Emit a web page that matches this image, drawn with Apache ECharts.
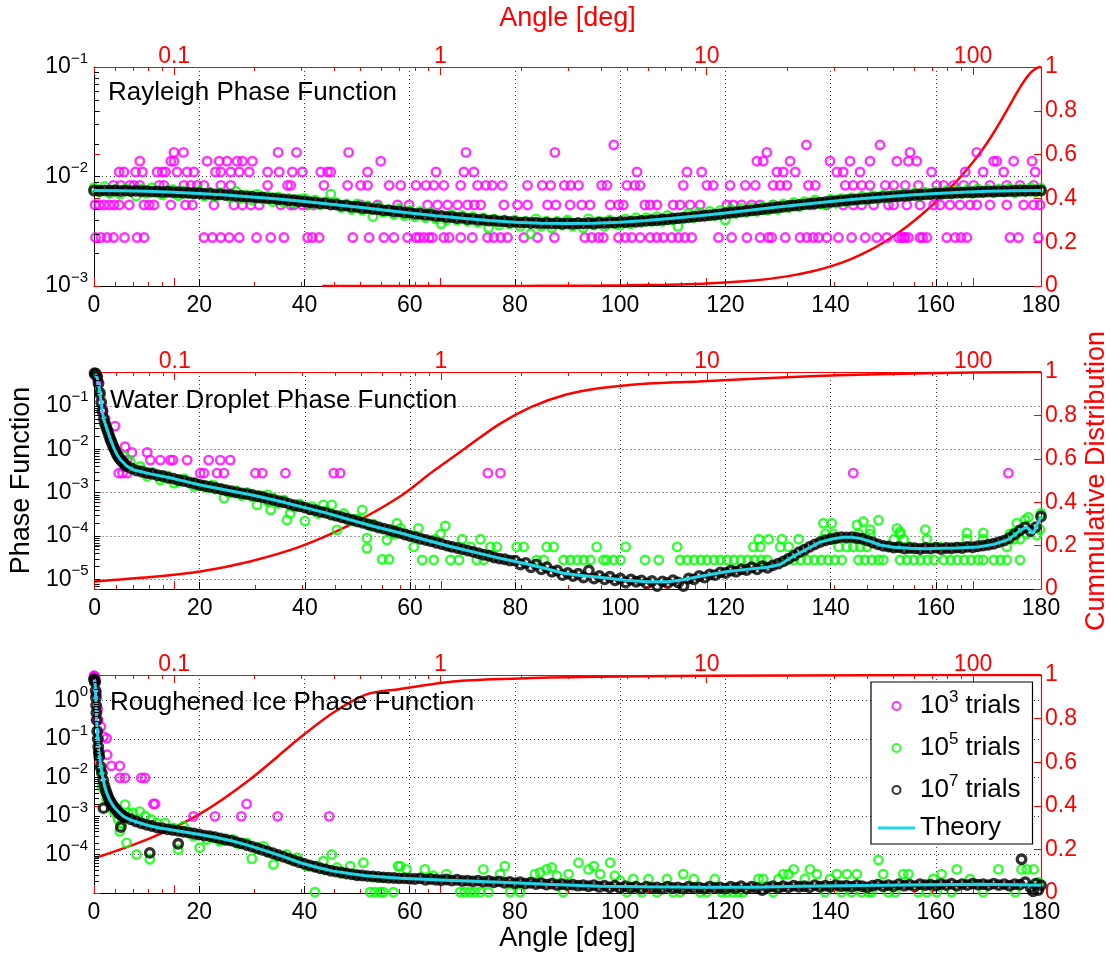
<!DOCTYPE html>
<html><head><meta charset="utf-8">
<script src="https://cdn.jsdelivr.net/npm/echarts@6/dist/echarts.min.js"></script>
<style>html,body{margin:0;padding:0;background:#fff}#c{width:1111px;height:954px}</style>
</head><body><div id="c"></div>
<script>
// ================= DATA =================
// ---- Panel 1: Rayleigh ----
const rayTheoryAngles = [0,5,10,15,20,25,30,35,40,45,50,55,60,65,70,75,80,85,90,95,100,105,110,115,120,125,130,135,140,145,150,155,160,165,170,175,180];
const rayTheory = [7.44e-3,7.41e-3,7.33e-3,7.19e-3,7.00e-3,6.77e-3,6.51e-3,6.22e-3,5.90e-3,5.58e-3,5.26e-3,4.94e-3,4.65e-3,4.38e-3,4.16e-3,3.97e-3,3.83e-3,3.75e-3,3.72e-3,3.75e-3,3.83e-3,3.97e-3,4.16e-3,4.38e-3,4.65e-3,4.94e-3,5.26e-3,5.58e-3,5.90e-3,6.22e-3,6.51e-3,6.77e-3,7.00e-3,7.19e-3,7.33e-3,7.41e-3,7.44e-3];
const RAY_UNIT = 1e-3; // per-degree arrays below are in units of 1e-3, index = angle in degrees
const rayBlackPerDeg = [
7.46,7.42,7.47,7.40,7.44,7.38,7.43,7.36,7.39,7.33,
7.35,7.27,7.31,7.22,7.25,7.17,7.19,7.10,7.11,7.03,
7.04,6.94,6.95,6.85,6.86,6.76,6.76,6.65,6.64,6.55,
6.54,6.42,6.43,6.31,6.31,6.19,6.18,6.06,6.06,5.94,
5.93,5.81,5.80,5.68,5.68,5.55,5.55,5.42,5.42,5.29,
5.29,5.16,5.16,5.04,5.03,4.91,4.91,4.79,4.80,4.68,
4.68,4.56,4.57,4.46,4.47,4.36,4.37,4.27,4.27,4.18,
4.19,4.09,4.10,4.02,4.03,3.95,3.96,3.89,3.90,3.84,
3.85,3.79,3.81,3.76,3.78,3.73,3.76,3.71,3.74,3.70,
3.74,3.70,3.74,3.71,3.76,3.72,3.78,3.75,3.80,3.79,
3.85,3.82,3.87,3.86,3.92,3.93,3.98,3.99,4.05,4.06,
4.13,4.16,4.21,4.23,4.30,4.33,4.39,4.43,4.49,4.53,
4.62,4.66,4.73,4.78,4.85,4.90,4.97,5.03,5.10,5.16,
5.24,5.30,5.37,5.43,5.50,5.56,5.63,5.69,5.76,5.82,
5.88,5.94,6.01,6.06,6.13,6.18,6.25,6.30,6.37,6.41,
6.48,6.52,6.59,6.63,6.68,6.73,6.78,6.82,6.87,6.91,
6.95,6.98,7.03,7.06,7.09,7.13,7.16,7.19,7.22,7.25,
7.27,7.30,7.32,7.34,7.36,7.38,7.40,7.42,7.43,7.45,7.44];
const rayGreenPerDeg = [
7.9,7.2,8.1,7.0,7.6,6.9,7.8,7.3,6.6,7.7,
7.0,7.9,7.1,6.8,7.5,7.6,6.7,7.4,7.0,6.9,
7.4,6.6,7.2,6.5,7.1,6.9,6.4,7.3,6.3,6.8,
6.1,6.9,6.2,6.6,5.9,6.5,5.8,6.3,5.7,6.2,
6.3,5.6,6.1,5.5,5.9,6.9,5.8,5.2,5.6,5.0,
5.6,4.9,5.4,4.3,5.3,4.7,5.0,4.5,5.1,4.4,
4.9,4.3,4.8,4.2,4.7,4.1,3.7,4.0,4.5,4.0,
4.4,3.9,4.3,3.8,4.2,3.4,4.1,3.6,4.0,3.7,
4.0,3.5,3.9,3.0,4.1,3.5,3.9,3.4,3.9,3.6,
4.0,3.5,3.8,3.4,4.1,3.6,3.9,3.5,4.0,3.7,
3.6,4.1,3.7,4.2,3.8,4.2,3.9,4.3,3.9,4.4,
4.0,3.5,4.1,4.6,4.2,4.7,4.3,4.8,4.4,4.9,
4.0,5.0,4.6,5.1,4.7,5.2,4.8,5.3,4.9,5.5,
5.0,5.6,5.2,5.8,5.3,5.9,5.5,6.1,5.6,5.5,
6.2,5.7,6.3,5.9,6.4,6.0,6.6,6.1,6.7,6.2,
6.8,6.3,6.9,6.5,7.0,6.6,7.1,6.7,7.2,6.8,
7.3,6.8,7.4,6.9,7.5,7.0,7.6,7.0,7.7,7.1,
7.6,7.1,7.7,7.2,7.8,7.1,7.7,7.3,7.9,7.2,7.8];
// 10^3 trials: quantized levels -> angles where a circle sits at that level
const rayMagentaLevels = [
 [2.77e-3,[0.3,1.3,2.5,3.7,5.8,8.2,9.5,20.9,22.5,24.1,25.7,27.6,30.9,33.6,36.1,40.6,41.5,42.8,49.2,52.3,55.1,57,59.6,61.2,61.8,62.7,63.7,64.3,66.5,67.5,69.7,71.9,74.8,76,77.3,78.6,81.7,84.3,87.5,93.3,94.6,95.9,96.8,99.7,101,102.2,103.8,105.7,107,108.2,109.8,111.1,112.3,113.6,118.7,121.2,124.1,126.6,128.2,128.8,131.4,134.2,135.5,136.7,137.7,139.3,141.5,144,146.6,148.8,150.7,152.9,153.5,153.9,154.2,154.8,157,157.5,158.3,162.1,163.7,164.8,165.9,174.1,175.7,179.5]],
 [5.5e-3,[0.2,1,1.9,2.9,3.8,4.8,6.7,9.5,10.5,11.4,14.6,17.4,18.7,22.8,26.6,28.2,29.8,31.4,35.5,37.4,38,39.6,40.6,41.8,50.7,53.9,57.7,59.9,63.4,65.3,67.2,69.1,71,72.3,73.5,77.9,80.5,82.4,86.2,87.8,90.5,92.7,94.3,98.1,99.7,100.6,104.7,105.7,107,110.1,111.4,113.3,115.2,120.3,121.5,123.1,125,126.6,129.1,132.9,136.7,139.3,142.4,144.3,145.9,148.2,151,152,154.5,157,159.6,160.8,162.7,164.6,166.5,167.8,170.3,173.5,176.7,178.6,179.8]],
 [8.3e-3,[3.7,5.1,6.8,7.6,8.7,12.4,13.3,17.1,18.4,19.6,20.9,24.1,26,33,36.8,37.4,43.7,48.2,50.7,52,56.1,58.3,61.2,63.1,64.6,66.5,69.7,72.9,74.5,75.7,77.6,82.4,85.2,86.8,89.4,90.6,92.1,96.5,97.5,101.3,102.8,103.8,112,116.5,117.7,120.9,123.8,125.7,129.1,130.4,131.7,135.8,137.1,142.8,144.3,145.9,147.5,150.4,152,154.2,156.7,160.2,161.5,163.4,165.3,167.2,170.3,173.5,176,178.6]],
 [1.1e-2,[4.8,5.7,7.9,9.2,12,13,13.6,15.8,17.7,19,23.1,24.1,26,27.6,29.5,33,35.2,37.7,39.6,43.1,44.4,45,52,65,70.3,72.2,103.2,112.7,115.5,129.8,131,133.3,141.2,142.4,145.6,159.2,165.6,169,172.9,178.9]],
 [1.38e-2,[8.7,14.6,15.2,21.5,23.8,25.3,27.2,28.2,30.1,54.5,126,127.2,132.3,139.9,143.7,147.5,152.6,154.8,156.4,171,171.6,174.8,178.3]],
 [1.66e-2,[15.2,17,35,38.5,48.4,70.7,87.6,127.9,155.1,167.8]],
 [1.94e-2,[98.8,135.4,149.4]]
];
const rayCdfAngles = [0.36,0.5,0.7,1,1.5,2,3,4,5,7,10,15,20,25,30,35,40,45,50,55,60,65,70,75,80,85,90,95,100,105,110,115,120,125,130,135,140,145,150,155,160,165,170,175,180];
const rayCdf = [0.00002,0.00003,0.00006,0.00011,0.00026,0.00046,0.00103,0.00183,0.00286,0.0056,0.0113,0.0251,0.0439,0.0671,0.0941,0.1241,0.1566,0.1906,0.2257,0.2613,0.2969,0.3321,0.3668,0.4008,0.4342,0.4672,0.5,0.5328,0.5658,0.5992,0.6332,0.6679,0.7031,0.7387,0.7743,0.8094,0.8434,0.8759,0.9059,0.9329,0.9561,0.9749,0.9887,0.9971,1];

// ---- Panel 2: Water droplet ----
const wdTheory = [[0,0.53],[0.5,0.44],[0.82,0.28],[1.14,0.15],[1.46,0.074],[1.77,0.048],[2.4,0.028],[3.04,0.0166],[3.67,0.0106],[4.3,0.0074],[4.94,0.0057],[6.2,0.004],[7.5,0.0033],[10.6,0.0027],[15,0.0021],[20.1,0.0015],[25,0.00115],[29.7,0.00089],[35,0.00064],[39.2,0.000475],[44,0.00034],[48.7,0.000234],[53,0.000168],[58.2,0.000117],[63,8.1e-5],[67.7,5.7e-5],[72,4.3e-5],[77.2,3.05e-5],[82,2.3e-5],[86,1.75e-5],[89,1.4e-5],[92,1.25e-5],[96,1.12e-5],[101,9.6e-6],[105,8.8e-6],[109,8.8e-6],[112,9.8e-6],[114,1.1e-5],[117,1.3e-5],[120,1.5e-5],[124,1.7e-5],[128,1.9e-5],[130.4,2.2e-5],[132.9,3.4e-5],[135.5,5e-5],[138,7.2e-5],[140.5,8.6e-5],[142.4,9.3e-5],[144,9.3e-5],[145.6,8.8e-5],[147.5,7.5e-5],[149.4,6.2e-5],[152,5.5e-5],[155,5.2e-5],[158,5.1e-5],[161,5.2e-5],[164,5.3e-5],[168,5.6e-5],[171,6.4e-5],[173.5,8e-5],[175,1.05e-4],[176,1.35e-4],[177.3,1.6e-4],[178.5,1.15e-4],[180,2.8e-4]];
const wdBlackFine = [[0,0.56],[0.25,0.55],[0.5,0.47],[0.75,0.33],[1.0,0.2],[1.25,0.12],[1.5,0.075],[1.75,0.05],[2.0,0.038],[2.25,0.031],[2.5,0.026],[2.75,0.021],[3.0,0.017],[3.25,0.0145],[3.5,0.0118],[3.75,0.0102],[4.0,0.0088],[4.25,0.0076],[4.5,0.0068],[4.75,0.0061],[5.0,0.0056],[5.25,0.0052],[5.5,0.0048],[5.75,0.0045]];
const wdBlackStart = 6; // per-degree values from 6 to 180 deg
const wdBlackPerDeg = [
4.1e-3,3.6e-3,3.2e-3,3.0e-3,2.8e-3,2.7e-3,2.5e-3,2.4e-3,2.2e-3,2.1e-3,1.95e-3,1.85e-3,1.72e-3,1.62e-3,1.5e-3,
1.42e-3,1.35e-3,1.28e-3,1.2e-3,1.13e-3,1.07e-3,1.01e-3,9.6e-4,9.2e-4,8.8e-4,
8.2e-4,7.8e-4,7.2e-4,6.8e-4,6.3e-4,6.0e-4,5.5e-4,5.1e-4,4.8e-4,4.5e-4,
4.1e-4,3.9e-4,3.6e-4,3.4e-4,3.1e-4,2.9e-4,2.7e-4,2.5e-4,2.35e-4,2.15e-4,
2.0e-4,1.85e-4,1.72e-4,1.6e-4,1.48e-4,1.38e-4,1.27e-4,1.18e-4,1.08e-4,1.0e-4,
9.4e-5,8.6e-5,8.1e-5,7.5e-5,7.0e-5,6.5e-5,6.0e-5,5.6e-5,5.3e-5,4.9e-5,
4.6e-5,4.3e-5,4.0e-5,3.7e-5,3.5e-5,3.2e-5,3.0e-5,2.9e-5,2.7e-5,2.7e-5,
2.2e-5,2.4e-5,1.9e-5,2.2e-5,1.7e-5,1.9e-5,1.5e-5,1.6e-5,1.25e-5,1.4e-5,
1.2e-5,1.35e-5,1.1e-5,1.6e-5,1.05e-5,1.2e-5,1.0e-5,1.15e-5,9.5e-6,1.05e-5,
8.5e-6,1.0e-5,8.8e-6,9.5e-6,8.0e-6,9.2e-6,7.0e-6,9.0e-6,8.2e-6,9.6e-6,
8.5e-6,7.0e-6,1.05e-5,1.0e-5,1.2e-5,1.1e-5,1.3e-5,1.25e-5,1.45e-5,1.4e-5,
1.6e-5,1.5e-5,1.7e-5,1.65e-5,1.9e-5,1.7e-5,2.0e-5,1.85e-5,2.1e-5,2.3e-5,
2.6e-5,3.0e-5,3.5e-5,4.2e-5,4.8e-5,5.6e-5,6.4e-5,7.2e-5,7.9e-5,8.5e-5,
9.0e-5,9.4e-5,9.3e-5,9.4e-5,9.0e-5,8.6e-5,7.8e-5,7.1e-5,6.4e-5,5.9e-5,
5.7e-5,5.4e-5,5.5e-5,5.1e-5,5.3e-5,5.2e-5,5.0e-5,5.3e-5,5.1e-5,5.4e-5,
5.0e-5,5.3e-5,5.2e-5,5.4e-5,5.3e-5,5.6e-5,5.5e-5,5.8e-5,6.0e-5,6.3e-5,
6.6e-5,7.2e-5,7.8e-5,9.0e-5,1.1e-4,1.35e-4,1.6e-4,1.3e-4,1.6e-4,2.8e-4];
const wdGreenPts = [[0.3,0.5],[1,0.19],[2,0.04],[3,0.018],[4,0.009],
[5.6,6.8e-3],[6.8,5.2e-3],[8.7,4e-3],[10,2.35e-3],[12.5,1.95e-3],[15.1,1.65e-3],[18.9,1.38e-3],[24,1.26e-3],[24.6,7.4e-4],[26.5,9.7e-4],[30.9,5.2e-4],[32.9,8.9e-4],[33.5,4e-4],[36.6,2.34e-4],[37.2,3.3e-4],[40,2.2e-4],[41.3,4.75e-4],[43.5,5.2e-4],[45.1,5.2e-4],[46.1,1.38e-4],[47.4,3.3e-4],[50.9,4e-4],[51.2,2.1e-4],[51.8,8.9e-5],[51.8,5.2e-5],[54.7,2.9e-5],[56,2.9e-5],[55.6,8.1e-5],[57.5,1.96e-4],
[7.5,3.6e-3],[9,3.3e-3],[11,2.9e-3],[13,2.2e-3],[14,2.4e-3],[16,1.8e-3],[17,2.1e-3],[19,1.7e-3],[20.5,1.45e-3],[21.5,1.3e-3],[22.5,1.5e-3],[23,1.2e-3],[25.5,1.0e-3],[27,1.1e-3],[28,8.5e-4],[29,1.0e-3],[30,8.0e-4],[31.5,8.5e-4],[33,6.2e-4],[34,7.5e-4],[35,5.6e-4],[36,6.8e-4],[38,4.6e-4],[39,5.5e-4],[41,4.0e-4],[42.5,3.3e-4],[44,3.8e-4],[45.5,3.0e-4],[48,2.6e-4],[49,2.2e-4],[50,2.5e-4],[52.5,1.7e-4],[53,1.9e-4],[54,1.5e-4],[56.5,1.3e-4],[57,1.1e-4],
[58.2,1.5e-4],[59.4,1.1e-4],[60.7,5.6e-5],[61.6,1.5e-4],[62.3,2.8e-5],[64.5,2.8e-5],[64.8,8.4e-5],[65.8,1.1e-4],[66.7,1.7e-4],[67.7,2.8e-5],[67.7,5.6e-5],[69.3,2.8e-5],[69.9,8.4e-5],[71.5,5.6e-5],[72.7,2.8e-5],[73.4,8.4e-5],[74,2.8e-5],[75.3,5.6e-5],[76.5,5.6e-5],[80.3,5.6e-5],[81.6,5.6e-5],[84.1,2.8e-5],[85.4,2.8e-5],[86,5.6e-5],[87.3,5.6e-5],
[138.6,1.96e-4],[140.2,1.96e-4],[145,1.8e-4],[146.2,2.15e-4],[149.1,2.3e-4],[152.6,1.5e-4],[153.2,1.25e-4],[158,1.4e-4],[165.9,1.17e-4],[169,1.17e-4],[174.8,1.17e-4],[175.4,1.96e-4],[177,2.36e-4],[177.6,2.7e-4],[179.2,1.04e-4],[180,3.3e-4],[147.5,1.4e-4],[179.8,1.4e-4]];
const wdGreenLevels = [
 [2.8e-5,[89.2,90.5,91.8,93,94.3,96.8,97.4,98.7,100,104.7,107.3,111.4,112.7,114,115.3,116.5,117.8,119,120.3,121.6,122.9,124.2,125.5,126.8,127.9,131.7,133,134.3,135.6,136.9,138.2,139.5,140.8,142.1,145.3,146.5,147.8,149.1,150,153.2,154.5,155.8,157.1,158.4,159.6,161.5,162.8,164.1,165.4,166.7,168,169,171,172.3,173.5,176]],
 [5.6e-5,[95.5,101,110.8,125.3,126.6,130.4,132,141.5,143.1,144.3,145.6,146.9,151.3,152.6,155.1,160.8,164.3,173.5]],
 [8.4e-5,[126.3,128.2,130.7,133.9,138.6,140.5,145.6,152,153.9,158.3,165.9,169,174.8,176]],
 [1.12e-4,[139,140.5,145.3,147.5,153.2,174.1,175.4,177.3]]
];
const wdMagentaPts = [[0,0.52],[0.3,0.5],[0.6,0.4],[1.1,0.17],[1.5,0.085],[2,0.05],[3.9,0.034],[5.8,0.0114]];
const wdMagentaLevels = [
 [2.8e-3,[4.6,5.3,6.2,10,10.9,20.1,20.8,23.3,24.6,30.6,31.9,36.3,45.5,46.7,74.8,77.2,144.3,173.8]],
 [5.6e-3,[6.2,10.6,12.5,14.4,14.9,17.6,21.7,23.9,25.8]],
 [8.4e-3,[7.1,10]]
];
const wdCdf = [[0.05,0.035],[0.081,0.055],[0.125,0.081],[0.192,0.127],[0.296,0.195],[0.455,0.295],[0.70,0.425],[0.93,0.54],[1.24,0.65],[1.66,0.76],[2.2,0.84],[2.94,0.895],[3.93,0.925],[6.04,0.947],[9.3,0.956],[22,0.978],[44,0.99],[100,0.998],[180,1]];

// ---- Panel 3: Roughened ice ----
const riTheory = [[0,3.5],[0.2,3.0],[0.35,1.0],[0.5,0.31],[0.8,0.063],[1.1,0.03],[1.5,0.013],[2.0,6.2e-3],[2.4,4e-3],[3.0,2.6e-3],[3.7,1.8e-3],[4.6,1.3e-3],[5.6,9.8e-4],[7,7.8e-4],[8.7,6.6e-4],[10.5,5.6e-4],[12.5,4.9e-4],[16.3,4.0e-4],[20.1,3.3e-4],[23,2.8e-4],[26.5,2.2e-4],[29.5,1.7e-4],[32.8,1.22e-4],[36,8.8e-5],[39.2,6.1e-5],[42.5,4.6e-5],[45.5,3.7e-5],[48.5,3.2e-5],[51.8,2.8e-5],[58.2,2.4e-5],[67,2.15e-5],[77.2,1.9e-5],[86,1.7e-5],[96.2,1.5e-5],[105,1.45e-5],[115.2,1.4e-5],[125,1.42e-5],[134.2,1.5e-5],[142,1.55e-5],[149.4,1.6e-5],[158,1.65e-5],[168.4,1.7e-5],[175,1.65e-5],[180,1.6e-5]];
const riBlackFine = [[0,3.6],[0.1,3.3],[0.2,3.0],[0.3,1.8],[0.35,1.2],[0.4,0.75],[0.45,0.48],[0.5,0.31],[0.6,0.16],[0.7,0.1],[0.8,0.063],[0.9,0.045],[1.0,0.035],[1.25,0.019],[1.5,0.013],[1.75,8.5e-3],[2.0,6e-3],[2.25,4.6e-3],[2.5,3.7e-3],[2.75,3e-3],[3.0,2.5e-3],[3.25,2.2e-3],[3.5,1.95e-3],[3.75,1.75e-3],[4.0,1.6e-3],[4.25,1.45e-3],[4.5,1.3e-3],[4.75,1.2e-3],[5.0,1.1e-3],[5.25,1.05e-3],[5.5,1.0e-3],[5.75,9.5e-4]];
const riBlackStart = 6;
const riBlackPerDeg = [
9.2e-4,8.2e-4,7.2e-4,6.5e-4,5.9e-4,5.5e-4,5.0e-4,4.8e-4,4.5e-4,4.3e-4,4.1e-4,3.9e-4,3.7e-4,3.5e-4,3.3e-4,
3.1e-4,3.0e-4,2.8e-4,2.6e-4,2.45e-4,2.3e-4,2.1e-4,1.95e-4,1.75e-4,1.6e-4,
1.45e-4,1.32e-4,1.2e-4,1.08e-4,9.7e-5,8.7e-5,7.8e-5,7.0e-5,6.3e-5,5.7e-5,
5.2e-5,4.8e-5,4.4e-5,4.1e-5,3.8e-5,3.6e-5,3.4e-5,3.2e-5,3.05e-5,2.9e-5,
2.85e-5,2.75e-5,2.7e-5,2.6e-5,2.55e-5,2.5e-5,2.45e-5,2.4e-5,2.4e-5,2.35e-5,
2.3e-5,2.4e-5,2.2e-5,2.3e-5,2.2e-5,2.15e-5,2.25e-5,2.1e-5,2.2e-5,2.05e-5,
2.1e-5,2.0e-5,2.1e-5,1.95e-5,2.05e-5,1.9e-5,2.0e-5,1.85e-5,1.95e-5,1.8e-5,
1.9e-5,1.75e-5,1.85e-5,1.7e-5,1.8e-5,1.65e-5,1.75e-5,1.6e-5,1.7e-5,1.6e-5,
1.65e-5,1.55e-5,1.6e-5,1.5e-5,1.6e-5,1.45e-5,1.55e-5,1.4e-5,1.55e-5,1.35e-5,
1.5e-5,1.35e-5,1.45e-5,1.3e-5,1.45e-5,1.35e-5,1.4e-5,1.3e-5,1.45e-5,1.35e-5,
1.4e-5,1.3e-5,1.45e-5,1.35e-5,1.4e-5,1.3e-5,1.45e-5,1.35e-5,1.4e-5,1.3e-5,
1.45e-5,1.35e-5,1.5e-5,1.3e-5,1.45e-5,1.35e-5,1.2e-5,1.4e-5,1.5e-5,1.35e-5,
1.5e-5,1.4e-5,1.55e-5,1.45e-5,1.5e-5,1.4e-5,1.6e-5,1.45e-5,1.55e-5,1.45e-5,
1.6e-5,1.5e-5,1.55e-5,1.45e-5,1.6e-5,1.5e-5,1.4e-5,1.55e-5,1.65e-5,1.5e-5,
1.6e-5,1.5e-5,1.7e-5,1.55e-5,1.65e-5,1.5e-5,1.7e-5,1.6e-5,1.65e-5,1.55e-5,
1.7e-5,1.6e-5,1.75e-5,1.55e-5,1.7e-5,1.6e-5,1.75e-5,1.65e-5,1.7e-5,1.6e-5,
1.75e-5,1.6e-5,1.7e-5,1.55e-5,1.7e-5,1.65e-5,1.9e-5,1.4e-5,1.75e-5,1.6e-5];
const riBlackExtra = [[1.8,1.6e-3],[5.1,5.2e-4],[10.6,1.1e-4],[16,1.9e-4],[176.3,7.5e-5],[178.5,1.1e-5],[179.5,1.2e-5]];
const riGreenPts = [[1.3,0.016],[1.5,5.8e-3],[2,4.5e-3],[2.4,2.65e-3],[3,2.3e-3],[3.3,1.6e-3],[3.5,1.9e-3],[4,1.2e-3],[4.6,8.1e-4],[5.3,6.6e-4],[4.9,4e-4],[5.9,1.97e-3],[6.2,2e-4],[6.5,1.2e-3],[7.4,1.2e-3],[8.1,1e-4],[8.7,1.3e-3],[9.7,1e-3],[10.6,7.5e-5],[10.9,8.1e-4],[11.9,6.6e-4],[13.5,6.6e-4],[15.1,4.9e-4],[16,1.35e-4],[17,5.4e-4],[17.6,4e-4],[18.9,3e-4],[20.1,1.5e-4],[21.4,2.45e-4],[22.5,2.8e-4],[23.9,2.2e-4],[25,2.3e-4],[26.5,2.45e-4],[27.5,1.9e-4],[29,2e-4],[30,7.8e-5],[31,1.5e-4],[32.2,1.65e-4],[33,1.15e-4],[34.1,5.5e-5],[35,9e-5],[36.6,1e-4],[37.5,7.5e-5],[38.6,8.3e-5],[40.4,5e-5],[42,4.8e-5],[43.6,6.7e-5],[44,4e-5],[45.2,1e-4],[46.2,4.6e-5],[47,3.3e-5],[48.7,5e-5],[50,3e-5],[51.2,6.1e-5],[53,2.6e-5],[55,2.5e-5],[57.8,5e-5],
[58.2,5e-5],[59.4,4.1e-5],[62.9,4.1e-5],[64.5,2.8e-5],[67,3.1e-5],[74,4.1e-5],[77.2,3.1e-5],[78.1,5e-5],[83.8,3.1e-5],[84.8,3.4e-5],[86,4.1e-5],[87,4.6e-5],[88,2.8e-5],[90.2,3.1e-5],[92.1,6.1e-5],[94,4.1e-5],[95,5e-5],[96.2,3.1e-5],[98.1,6.1e-5],[99,2.8e-5],[100,2.05e-5],[102.5,2.3e-5],[105.4,2.3e-5],[108.9,2.3e-5],[112,3.1e-5],[114,2.3e-5],[118,2.3e-5],[126.3,2.3e-5],[127.2,2.3e-5],[130.1,2.3e-5],[131,3.1e-5],[132,3.1e-5],[133,4.1e-5],[135.1,2.3e-5],[136.1,4.1e-5],[137.4,3.1e-5],[139.9,2.3e-5],[141.2,3.1e-5],[143.1,3.1e-5],[145,3.1e-5],[149.1,7.2e-5],[150,3.1e-5],[153.8,3.1e-5],[154.8,3.1e-5],[159.5,2.3e-5],[161.1,3.1e-5],[164,4.1e-5],[166.5,2.3e-5],[171.9,4.1e-5],[176.3,4.1e-5],[177.3,4.1e-5],[178.6,4.1e-5],[179.5,1.9e-5]];
const riGreenFloorLevel = 1.05e-5;
const riGreenFloorAngles = [42,52.5,53.4,54.4,55,56.9,69.6,70.5,71.5,72.4,73.4,75,79.1,81,89.2,101.3,104.1,107,110.1,111.4,115.2,116.5,119.3,120.3,121.5,122.5,123.4,129.1,139,142.1,144,145.9,147.2,147.8,151,152.3,156.7,158.3,160.2,163,169,175.1];
const riMagentaPts = [[0,4.4],[0.1,4.3],[0.2,4.0],[0.3,3.2],[0.5,1.5],[0.7,0.6],[0.8,0.31],[1.3,0.21],[1.8,0.115],[2.4,0.104],[2.5,0.039],[3.3,0.02],[4.9,0.02],[4.9,9.8e-3],[5.9,9.8e-3],[9.0,9.8e-3],[9.7,9.8e-3],[11.3,2.06e-3],[11.6,2.06e-3],[18.9,9.8e-4],[23,9.8e-4],[28,9.8e-4],[29,2.06e-3],[34.9,9.8e-4],[44.7,9.8e-4]];
const riCdf = [[0.05,0.159],[0.081,0.251],[0.125,0.363],[0.192,0.52],[0.296,0.711],[0.394,0.826],[0.525,0.91],[0.70,0.935],[1.08,0.968],[1.58,0.98],[3,0.99],[10,0.996],[40,0.999],[180,1]];

// axis tick labels / titles
const bottomTicks = {min:0, max:180, interval:20};
const topLogRange = {min:0.05, max:180};
const rightTicks = {min:0, max:1, interval:0.2};
const legendNames = ['10^3 trials','10^5 trials','10^7 trials','Theory'];
const axisTitles = {top:'Angle [deg]', bottom:'Angle [deg]', left:'Phase Function', right:'Cummulative Distribution'};

// ================= BUILD =================
const FONT = '"Liberation Sans", Arial, Helvetica, sans-serif';
const MAG='#ff00ff', GRN='#00ff00', BLK='#000000', CYN='#22d6ea', RED='#ff0000';
const fromGroups = g => g.flatMap(([v, arr]) => arr.map(a => [a, v]));
const perDeg = (vals, start, unit) => vals.map((v, i) => [start + i, v * (unit || 1)]);
const zip = (a, b) => a.map((x, i) => [x, b[i]]);

const panels = [
  {ymin:1e-3, ymax:1e-1, showMinLabel:true, top:67, height:219, title:'Rayleigh Phase Function', tx:108, ty:93,
   magenta: fromGroups(rayMagentaLevels), green: perDeg(rayGreenPerDeg,0,RAY_UNIT),
   black: perDeg(rayBlackPerDeg,0,RAY_UNIT), theory: zip(rayTheoryAngles, rayTheory), cdf: zip(rayCdfAngles, rayCdf)},
  {ymin:6e-6, ymax:0.6, showMinLabel:true, top:372, height:217, title:'Water Droplet Phase Function', tx:110, ty:401,
   magenta: wdMagentaPts.concat(fromGroups(wdMagentaLevels)), green: wdGreenPts.concat(fromGroups(wdGreenLevels)),
   black: wdBlackFine.concat(perDeg(wdBlackPerDeg, wdBlackStart)), theory: wdTheory, cdf: wdCdf},
  {ymin:1e-5, ymax:4.6, showMinLabel:false, top:675, height:218, title:'Roughened Ice Phase Function', tx:110, ty:703,
   magenta: riMagentaPts, green: riGreenPts.concat(riGreenFloorAngles.map(a => [a, riGreenFloorLevel])),
   black: riBlackFine.concat(perDeg(riBlackPerDeg, riBlackStart), riBlackExtra), theory: riTheory, cdf: riCdf}
];

function isDecade(v){ const l = Math.log10(v); return Math.abs(l - Math.round(l)) < 1e-6; }
function powLabel(v){ if (!isDecade(v)) return ''; const r = Math.round(Math.log10(v)); return '{b|10}{s|' + (r < 0 ? '\u2212' + (-r) : r) + '}'; }
function topLabel(v){ if (!isDecade(v)) return ''; return v >= 1 ? String(Math.round(v)) : String(+v.toPrecision(1)); }
function minorValues(lo, hi){ const out=[]; for (let d=Math.floor(Math.log10(lo)); d<=Math.ceil(Math.log10(hi)); d++){ for (let k=2;k<=9;k++){ const v=k*Math.pow(10,d); if (v>lo*1.0001 && v<hi*0.9999) out.push(v);} } return out; }

const grid=[], xAxis=[], yAxis=[], series=[], graphic=[];
const gridLine = {color:'#3a3a3a', type:[1,3], width:1};
panels.forEach((pc, p) => {
  grid.push({left:94, width:947, top:pc.top, height:pc.height, containLabel:false});
  // x axes: bottom linear, top log, bottom log (mirrored red ticks)
  xAxis.push({type:'value', gridIndex:p, position:'bottom', min:bottomTicks.min, max:bottomTicks.max, interval:bottomTicks.interval,
    axisLine:{show:true, onZero:false, lineStyle:{color:'#000', width:1}},
    axisTick:{show:true, inside:true, length:7, lineStyle:{color:'#000'}},
    axisLabel:{color:'#000', fontSize:23, margin:8, fontFamily:FONT},
    splitLine:{show:true, showMinLine:false, showMaxLine:false, lineStyle:gridLine},
    name: p===2 ? axisTitles.bottom : '', nameLocation:'middle', nameGap:31,
    nameTextStyle:{color:'#000', fontSize:27, fontFamily:FONT}});
  xAxis.push({type:'log', logBase:10, gridIndex:p, position:'top', min:topLogRange.min, max:topLogRange.max,
    axisLine:{show:true, onZero:false, lineStyle:{color:RED, width:1.2}},
    axisTick:{show:true, inside:true, length:8, lineStyle:{color:RED}},
    axisLabel:{color:RED, fontSize:23, margin:-1, fontFamily:FONT, formatter:topLabel},
    splitLine:{show:false}});
  xAxis.push({type:'log', logBase:10, gridIndex:p, position:'bottom', min:topLogRange.min, max:topLogRange.max,
    axisLine:{show:false, onZero:false}, axisTick:{show:true, inside:true, length:8, lineStyle:{color:RED}},
    axisLabel:{show:false}, splitLine:{show:false}});
  // y axes: left log, right linear, left linear (mirrored red ticks)
  yAxis.push({type:'log', logBase:10, gridIndex:p, position:'left', min:pc.ymin, max:pc.ymax,
    axisLine:{show:true, onZero:false, lineStyle:{color:'#000', width:1}},
    axisTick:{show:true, inside:true, length:6, lineStyle:{color:'#000'}},
    axisLabel:{formatter:powLabel, margin:6, showMinLabel:pc.showMinLabel, color:'#000', fontFamily:FONT,
      rich:{b:{fontSize:23, lineHeight:32, color:'#000', fontFamily:FONT}, s:{fontSize:15, lineHeight:12, verticalAlign:'top', color:'#000', fontFamily:FONT}}},
    splitLine:{show:true, showMinLine:false, showMaxLine:false, lineStyle:gridLine},
    name: p===1 ? axisTitles.left : '', nameLocation:'middle', nameGap:56, nameRotate:90,
    nameTextStyle:{color:'#000', fontSize:27, fontFamily:FONT}});
  yAxis.push({type:'value', gridIndex:p, position:'right', min:rightTicks.min, max:rightTicks.max, interval:rightTicks.interval,
    axisLine:{show:true, onZero:false, lineStyle:{color:RED, width:1.2}},
    axisTick:{show:true, inside:true, length:7, lineStyle:{color:RED}},
    axisLabel:{color:RED, fontSize:23, margin:4, fontFamily:FONT, formatter:v => (v===0||v===1) ? String(v) : v.toFixed(1)},
    splitLine:{show:false}});
  yAxis.push({type:'value', gridIndex:p, position:'left', min:rightTicks.min, max:rightTicks.max, interval:rightTicks.interval,
    axisLine:{show:false, onZero:false}, axisTick:{show:true, inside:true, length:6, lineStyle:{color:RED}},
    axisLabel:{show:false}, splitLine:{show:false}});

  const xi = 3*p, yi = 3*p;
  series.push({type:'line', name:'cdf'+p, xAxisIndex:xi+1, yAxisIndex:yi+1, data:pc.cdf, symbol:'none', smooth:0.3,
    lineStyle:{color:RED, width:2.5}, z:1, silent:true, animation:false});
  const sc = (name, color, data, z, size, bw) => ({type:'scatter', name, xAxisIndex:xi, yAxisIndex:yi, data, symbol:'circle', symbolSize:size,
    itemStyle:{color:'rgba(0,0,0,0)', borderColor:color, borderWidth:bw}, z, silent:true, animation:false});
  series.push(sc(legendNames[0], MAG, pc.magenta, 2, 8.5, 2.4));
  series.push(sc(legendNames[1], GRN, pc.green, 3, 8.5, 2.4));
  series.push(sc(legendNames[2], BLK, pc.black, 4, 8.5, 3.4));
  series.push({type:'line', name:legendNames[3], xAxisIndex:xi, yAxisIndex:yi, data:pc.theory, symbol:'none', showSymbol:false,
    lineStyle:{color:CYN, width:3}, itemStyle:{color:CYN}, z:5, silent:true, animation:false});
  // minor log ticks (top axis mirrored top & bottom in red; left axis black)
  const topMinor = minorValues(topLogRange.min, topLogRange.max).map(v => [v, pc.ymin, 0]);
  const leftMinor = minorValues(pc.ymin, pc.ymax).map(v => [topLogRange.min, v, 1]);
  series.push({type:'custom', xAxisIndex:xi+1, yAxisIndex:yi, silent:true, animation:false, z:6,
    data: topMinor.concat(leftMinor),
    renderItem:(params, api) => {
      const cs = params.coordSys;
      const pt = api.coord([api.value(0), api.value(1)]);
      if (api.value(2) === 0) {
        const x = Math.round(pt[0]) + 0.5;
        return {type:'group', children:[
          {type:'line', shape:{x1:x, y1:cs.y, x2:x, y2:cs.y+4}, style:{stroke:RED, lineWidth:1}},
          {type:'line', shape:{x1:x, y1:cs.y+cs.height, x2:x, y2:cs.y+cs.height-4}, style:{stroke:RED, lineWidth:1}}]};
      }
      const y = Math.round(pt[1]) + 0.5;
      return {type:'line', shape:{x1:cs.x, y1:y, x2:cs.x+5, y2:y}, style:{stroke:'#000', lineWidth:1}};
    }});
  graphic.push({type:'text', x:pc.tx, y:pc.ty, z:100,
    style:{text:pc.title, fontSize:26, fontFamily:FONT, fill:'#000', verticalAlign:'middle', align:'left'}});
});
// top and right axis titles
graphic.push({type:'text', x:567.5, y:19, z:100,
  style:{text:axisTitles.top, fontSize:27, fontFamily:FONT, fill:RED, align:'center', verticalAlign:'middle'}});
graphic.push({type:'text', x:1097, y:481, rotation:Math.PI/2, z:100,
  style:{text:axisTitles.right, fontSize:27, fontFamily:FONT, fill:RED, align:'center', verticalAlign:'middle'}});

const chart = echarts.init(document.getElementById('c'), null, {renderer:'canvas'});
chart.setOption({
  backgroundColor:'#fff', animation:false,
  textStyle:{fontFamily:FONT},
  grid, xAxis, yAxis, series, graphic,
  legend:{data:[legendNames[0], legendNames[1], legendNames[2], {name:legendNames[3], icon:'path://M0,0H37V3H0Z'}],
    orient:'vertical', left:871, top:682, selectedMode:false,
    backgroundColor:'#fff', borderColor:'#000', borderWidth:1.2, borderRadius:0,
    padding:[7,12,3,7], itemGap:12, itemWidth:37, itemHeight:8,
    formatter: name => { const m = name.match(/^10\^(\d) trials$/); return m ? '{b|10}{s|' + m[1] + '}{b| trials}' : '{t|' + name + '}'; },
    textStyle:{color:'#000', fontSize:26, fontFamily:FONT,
      rich:{b:{fontSize:26, lineHeight:34, fontFamily:FONT, color:'#000'}, s:{fontSize:17, lineHeight:12, verticalAlign:'top', fontFamily:FONT, color:'#000'}, t:{fontSize:26, lineHeight:22, fontFamily:FONT, color:'#000'}}}}
});
</script></body></html>
